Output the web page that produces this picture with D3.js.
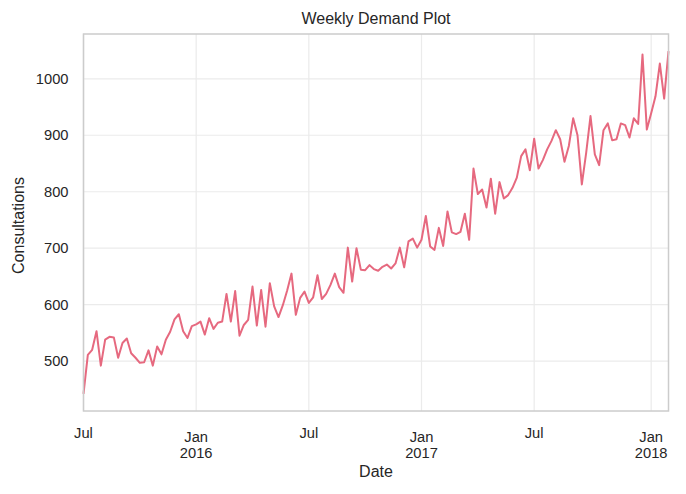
<!DOCTYPE html>
<html>
<head>
<meta charset="utf-8">
<script src="https://cdn.jsdelivr.net/npm/d3@7"></script>
<style>
  body { margin: 0; background: #fff; }
  text { font-family: "Liberation Sans", Arial, sans-serif; fill: #262626; }
</style>
</head>
<body>
<div class="canvas"></div>
<script>
// weekly consultations, week ending Sunday, from 2015-07-05
const firstWeek = new Date(2015, 6, 5)
const consultations = [
  442, 511, 520, 553, 492, 538, 543, 542, 506, 532,
  540, 514, 506, 497, 498, 519, 492, 526, 512, 538,
  552, 574, 583, 553, 541, 562, 565, 570, 547, 576,
  557, 568, 570, 619, 570, 624, 545, 564, 573, 632,
  563, 626, 561, 638, 597, 578, 599, 625, 655, 582,
  612, 623, 603, 613, 652, 610, 619, 635, 655, 631,
  621, 701, 641, 700, 662, 661, 670, 663, 660, 667,
  671, 664, 673, 701, 666, 712, 717, 701, 715, 757,
  703, 697, 736, 704, 765, 728, 725, 729, 761, 715,
  841, 796, 804, 772, 823, 761, 817, 788, 794, 807,
  825, 863, 875, 838, 894, 841, 856, 875, 890, 909,
  893, 853, 881, 930, 900, 813, 869, 934, 866, 847,
  909, 921, 891, 893, 921, 918, 896, 930, 920, 1043,
  910, 939, 969, 1027, 965, 1049
]
const tickDates = [
  new Date(2015, 6, 5), new Date(2016, 0, 3), new Date(2016, 6, 3),
  new Date(2017, 0, 1), new Date(2017, 6, 2), new Date(2018, 0, 7)
]
const tickLabels = [['Jul'], ['Jan', '2016'], ['Jul'], ['Jan', '2017'], ['Jul'], ['Jan', '2018']]
const yTicks = [500, 600, 700, 800, 900, 1000]

const data = consultations.map((v, i) => ({ date: d3.timeWeek.offset(firstWeek, i), value: v }))

const width = 686
const height = 494
const margin = { top: 34, right: 17.5, bottom: 83, left: 83.5 }
const graphWidth = width - margin.left - margin.right
const graphHeight = height - margin.top - margin.bottom

const svg = d3.select('.canvas').append('svg')
  .attr('width', width)
  .attr('height', height)

const graph = svg.append('g')
  .attr('transform', `translate(${margin.left}, ${margin.top})`)

const x = d3.scaleTime()
  .domain(d3.extent(data, d => d.date))
  .range([0, graphWidth])

// matplotlib style 5% padding on y
const [lo, hi] = d3.extent(data, d => d.value)
const pad = (hi - lo) * 0.05
const y = d3.scaleLinear()
  .domain([lo - pad, hi + pad])
  .range([graphHeight, 0])

// grid
graph.append('g')
  .selectAll('line.h')
  .data(yTicks)
  .enter().append('line')
  .attr('x1', 0).attr('x2', graphWidth)
  .attr('y1', d => y(d)).attr('y2', d => y(d))
  .attr('stroke', '#ebebeb').attr('stroke-width', 1.2)

graph.append('g')
  .selectAll('line.v')
  .data(tickDates)
  .enter().append('line')
  .attr('x1', d => x(d)).attr('x2', d => x(d))
  .attr('y1', 0).attr('y2', graphHeight)
  .attr('stroke', '#ebebeb').attr('stroke-width', 1.2)

// the series
const line = d3.line()
  .x(d => x(d.date))
  .y(d => y(d.value))

graph.append('path')
  .datum(data)
  .attr('fill', 'none')
  .attr('stroke', '#e6697f')
  .attr('stroke-width', 2)
  .attr('stroke-linejoin', 'round')
  .attr('d', line)

// frame
graph.append('rect')
  .attr('width', graphWidth)
  .attr('height', graphHeight)
  .attr('fill', 'none')
  .attr('stroke', '#cccccc')
  .attr('stroke-width', 1.5)

// axes
const yAxis = d3.axisLeft(y).tickValues(yTicks).tickFormat(d3.format('d')).tickSize(0).tickPadding(15)
const yAxisGroup = graph.append('g').call(yAxis)
yAxisGroup.select('.domain').remove()
yAxisGroup.selectAll('text')
  .style('font-size', '14.7px')
  .style('font-family', '"Liberation Sans", Arial, sans-serif')
  .attr('fill', '#262626')

const xAxisGroup = graph.append('g')
  .attr('transform', `translate(0,${graphHeight})`)
xAxisGroup.selectAll('text')
  .data(tickDates)
  .enter().append('text')
  .attr('x', d => x(d))
  .attr('y', (d, i) => tickLabels[i].length > 1 ? 31 : 27)
  .attr('text-anchor', 'middle')
  .style('font-size', '14.7px')
  .each(function (d, i) {
    tickLabels[i].forEach((t, k) => {
      d3.select(this).append('tspan')
        .attr('x', x(d))
        .attr('dy', k === 0 ? 0 : 16)
        .text(t)
    })
  })

// titles
svg.append('text')
  .attr('x', margin.left + graphWidth / 2)
  .attr('y', 24)
  .attr('text-anchor', 'middle')
  .style('font-size', '16px')
  .text('Weekly Demand Plot')

svg.append('text')
  .attr('x', margin.left + graphWidth / 2)
  .attr('y', 477)
  .attr('text-anchor', 'middle')
  .style('font-size', '16px')
  .text('Date')

svg.append('text')
  .attr('transform', `translate(24, ${margin.top + graphHeight / 2 + 3}) rotate(-90)`)
  .attr('text-anchor', 'middle')
  .style('font-size', '16px')
  .text('Consultations')
</script>
</body>
</html>
